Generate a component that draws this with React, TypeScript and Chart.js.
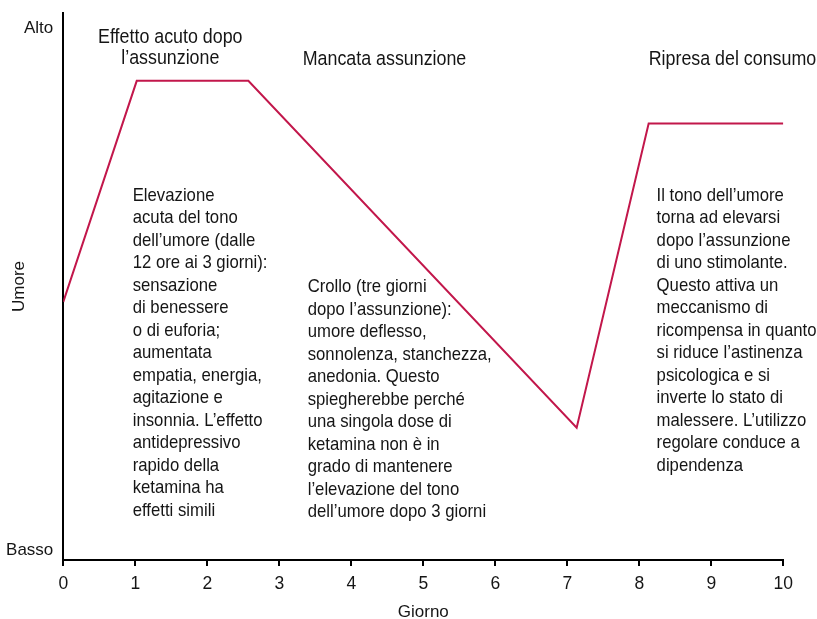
import React, { useEffect, useRef } from "react";
import { Chart, registerables } from "chart.js";

Chart.register(...registerables);

const FONT = '"Liberation Sans", Arial, sans-serif';

// ---- data ----
const DAYS = [0, 1.02, 2.57, 7.13, 8.13, 10];
const MOOD = [4.72, 8.76, 8.76, 2.42, 7.98, 7.98];
const X_TICKS = [0, 1, 2, 3, 4, 5, 6, 7, 8, 9, 10];
const Y_TICK_VALUES = [0.18, 9.72];
const Y_TICK_LABELS = ["Basso", "Alto"];
const X_TITLE = "Giorno";
const Y_TITLE = "Umore";

const HEADER_1 = ["Effetto acuto dopo", "l’assunzione"];
const HEADER_2 = ["Mancata assunzione"];
const HEADER_3 = ["Ripresa del consumo"];

const NOTE_1 = [
  "Elevazione",
  "acuta del tono",
  "dell’umore (dalle",
  "12 ore ai 3 giorni):",
  "sensazione",
  "di benessere",
  "o di euforia;",
  "aumentata",
  "empatia, energia,",
  "agitazione e",
  "insonnia. L’effetto",
  "antidepressivo",
  "rapido della",
  "ketamina ha",
  "effetti simili",
];
const NOTE_2 = [
  "Crollo (tre giorni",
  "dopo l’assunzione):",
  "umore deflesso,",
  "sonnolenza, stanchezza,",
  "anedonia. Questo",
  "spiegherebbe perché",
  "una singola dose di",
  "ketamina non è in",
  "grado di mantenere",
  "l’elevazione del tono",
  "dell’umore dopo 3 giorni",
];
const NOTE_3 = [
  "Il tono dell’umore",
  "torna ad elevarsi",
  "dopo l’assunzione",
  "di uno stimolante.",
  "Questo attiva un",
  "meccanismo di",
  "ricompensa in quanto",
  "si riduce l’astinenza",
  "psicologica e si",
  "inverte lo stato di",
  "malessere. L’utilizzo",
  "regolare conduce a",
  "dipendenza",
];

// ---- annotation placement (data coordinates) ----
const HEADER_PLACES = [
  { lines: HEADER_1, x: 1.486, y: 9.446 },
  { lines: HEADER_2, x: 4.461, y: 9.049 },
  { lines: HEADER_3, x: 9.294, y: 9.049 },
];
const NOTE_PLACES = [
  { lines: NOTE_1, x: 0.964, y: 6.572 },
  { lines: NOTE_2, x: 3.394, y: 4.899 },
  { lines: NOTE_3, x: 8.24, y: 6.572 },
];

const TEXT_COLOR = "#151515";

function drawCondensed(ctx: any, text: string, x: number, y: number, sx: number) {
  ctx.save();
  ctx.translate(x, y);
  ctx.scale(sx, 1);
  ctx.fillText(text, 0, 0);
  ctx.restore();
}

const annotationPlugin = {
  id: "annotations",
  afterDraw(chart: any) {
    const { ctx } = chart;
    const xs = chart.scales.x;
    const ys = chart.scales.y;
    ctx.save();
    ctx.fillStyle = TEXT_COLOR;
    ctx.textBaseline = "alphabetic";
    ctx.font = `20.5px ${FONT}`;
    ctx.textAlign = "center";
    HEADER_PLACES.forEach((h) => {
      const px = xs.getPixelForValue(h.x);
      const py = ys.getPixelForValue(h.y);
      h.lines.forEach((l, i) => drawCondensed(ctx, l, px, py + i * 21, 0.87));
    });
    ctx.font = `19px ${FONT}`;
    ctx.textAlign = "left";
    NOTE_PLACES.forEach((n) => {
      const px = xs.getPixelForValue(n.x);
      const py = ys.getPixelForValue(n.y);
      n.lines.forEach((l, i) => drawCondensed(ctx, l, px, py + i * 22.5, 0.88));
    });
    ctx.restore();
  },
};

export default function App() {
  const ref = useRef<HTMLCanvasElement>(null);
  useEffect(() => {
    if (!ref.current) return;
    const chart = new Chart(ref.current, {
      type: "line",
      data: {
        datasets: [
          {
            data: DAYS.map((d, i) => ({ x: d, y: MOOD[i] })),
            borderColor: "#c2174b",
            borderWidth: 2,
            pointRadius: 0,
            tension: 0,
            fill: false,
            borderJoinStyle: "miter",
          } as any,
        ],
      },
      options: {
        responsive: false,
        animation: false,
        devicePixelRatio: 1,
        layout: { padding: { top: 13, right: 33.7, left: 0, bottom: 0 } },
        plugins: { legend: { display: false }, tooltip: { enabled: false } },
        scales: {
          x: {
            type: "linear",
            min: 0,
            max: 10,
            afterBuildTicks: (a: any) => {
              a.ticks = X_TICKS.map((v) => ({ value: v }));
            },
            afterFit: (s: any) => {
              s.height = 61;
            },
            ticks: {
              font: { family: FONT, size: 17.5 },
              color: TEXT_COLOR,
              padding: 8,
              maxRotation: 0,
              autoSkip: false,
            },
            grid: {
              drawOnChartArea: false,
              drawTicks: true,
              tickLength: 6,
              color: "#000",
              lineWidth: 2,
            },
            border: { display: true, color: "#000", width: 2 },
            title: {
              display: true,
              text: X_TITLE,
              color: TEXT_COLOR,
              font: { family: FONT, size: 17, lineHeight: 1 },
              padding: { top: 0, bottom: 0 },
            },
          },
          y: {
            type: "linear",
            min: 0,
            max: 10,
            afterBuildTicks: (a: any) => {
              a.ticks = Y_TICK_VALUES.map((v) => ({ value: v }));
            },
            afterFit: (s: any) => {
              s.width = 63.3;
              s.paddingTop = 0;
              s.paddingBottom = 0;
            },
            ticks: {
              callback: (_v: any, i: number) => Y_TICK_LABELS[i],
              font: { family: FONT, size: 17, lineHeight: 0.2 },
              color: TEXT_COLOR,
              padding: 10,
              autoSkip: false,
            },
            grid: { display: false, drawTicks: false },
            border: { display: true, color: "#000", width: 2 },
            title: {
              display: true,
              text: Y_TITLE,
              color: TEXT_COLOR,
              font: { family: FONT, size: 17, lineHeight: 1 },
              padding: { top: 10.5, bottom: 0 },
            },
          },
        },
      } as any,
      plugins: [annotationPlugin],
    });
    return () => chart.destroy();
  }, []);

  return (
    <div
      style={{
        position: "fixed",
        left: 0,
        top: 0,
        width: 817,
        height: 619,
        overflow: "hidden",
        background: "#fff",
      }}
    >
      <canvas ref={ref} width={817} height={621} style={{ display: "block" }} />
    </div>
  );
}
